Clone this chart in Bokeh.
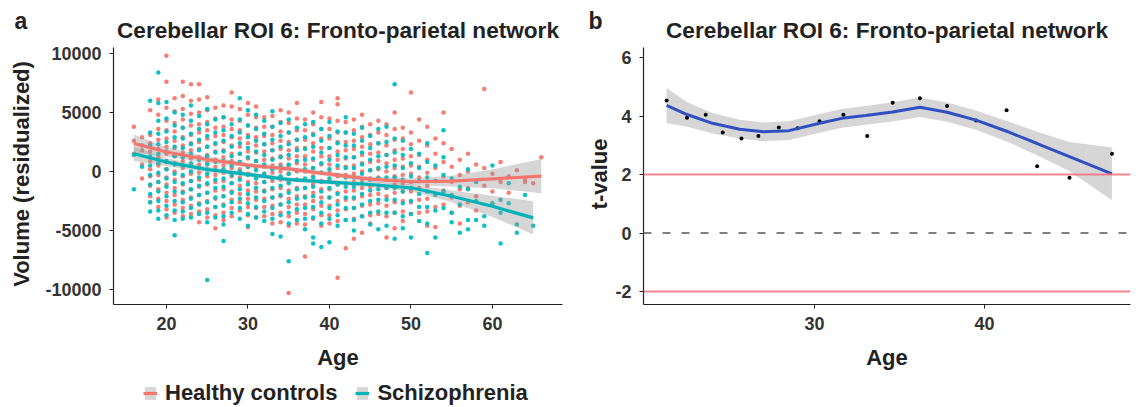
from bokeh.plotting import figure
from bokeh.models import Range1d, FixedTicker, Span, Label, Legend, LegendItem
from bokeh.layouts import row, column
from bokeh.embed import file_html
from bokeh.resources import INLINE

# ---------------- Panel a data ----------------
hc_ages = [16, 17, 18, 19, 20, 21, 22, 23, 24, 25, 26, 27, 28, 29, 30, 31, 32, 33, 34, 35,
           36, 37, 38, 39, 40, 41, 42, 43, 44, 45, 46, 47, 48, 49, 50, 51, 52, 53, 54, 55,
           56, 57, 58, 59, 60, 61, 62, 63, 64, 65, 66]
hc_vols = [
    [3800, 2600, 1500],
    [2900, 1800, 600, -600],
    [5200, 3100, 2400, 1700, 900, 200, -400, -1200, -2100, -2600],
    [6100, 4800, 3600, 2700, 1900, 1200, 500, -300, -900, -1500, -2300, -3000],
    [9800, 7600, 5400, 4300, 3500, 2800, 2100, 1500, 800, 200, -500, -1100, -1800, -2500, -3200, -3900],
    [6200, 5100, 4100, 3400, 2600, 2000, 1300, 700, 0, -700, -1400, -2000, -2800, -3500],
    [7600, 6400, 5300, 4400, 3700, 2900, 2200, 1600, 900, 300, -400, -1100, -1700, -2400, -3100, -3800],
    [7400, 6000, 4900, 3900, 3100, 2400, 1800, 1100, 500, -200, -800, -1500, -2200, -2900, -3600],
    [7400, 6100, 5000, 4000, 3300, 2500, 1900, 1200, 600, -100, -700, -1300, -2000, -2700, -3400, -4300],
    [6300, 5200, 4200, 3500, 2800, 2100, 1400, 800, 200, -400, -1100, -1800, -2500, -3200, -3900],
    [5400, 4500, 3700, 3000, 2300, 1700, 1000, 400, -300, -900, -1600, -2300, -3000, -3700, -4800],
    [5600, 4600, 3800, 3100, 2500, 1800, 1200, 500, -100, -800, -1500, -2100, -2800, -3500, -4100],
    [6700, 5500, 4400, 3600, 2900, 2200, 1500, 900, 300, -400, -1000, -1700, -2400, -3100, -3800],
    [5300, 4300, 3500, 2800, 2100, 1500, 800, 200, -500, -1200, -1900, -2600, -3300],
    [5800, 4800, 3900, 3100, 2400, 1700, 1100, 400, -200, -900, -1600, -2300, -3000, -3700, -4700],
    [5500, 4600, 3700, 2900, 2200, 1600, 900, 300, -400, -1000, -1700, -2400, -3100, -3900],
    [4600, 3800, 3000, 2300, 1700, 1000, 400, -200, -900, -1600, -2300, -3000, -3800],
    [4700, 3800, 3100, 2400, 1800, 1100, 500, -100, -800, -1500, -2200, -2900, -3600, -4400],
    [5200, 4200, 3400, 2600, 1900, 1300, 600, 0, -700, -1400, -2100, -2800, -3500, -4300],
    [5000, 4100, 3300, 2500, 1800, 1100, 500, -200, -900, -1600, -2300, -3000, -3800, -4600, -10300],
    [5800, 4500, 3500, 2700, 2000, 1300, 700, 0, -700, -1400, -2100, -2800, -3500, -4400],
    [4400, 3500, 2700, 2000, 1300, 600, 0, -700, -1400, -2100, -2800, -3600, -4500, -7200],
    [5000, 4000, 3200, 2400, 1700, 1000, 300, -400, -1100, -1800, -2500, -3200, -4000],
    [5900, 4600, 3600, 2800, 2000, 1300, 600, -100, -800, -1500, -2200, -2900, -3700, -4600],
    [4500, 3600, 2800, 2000, 1300, 600, -100, -800, -1500, -2200, -2900, -3700, -4400],
    [6200, 5700, 4300, 3300, 2500, 1700, 1000, 300, -400, -1100, -1800, -2500, -3300, -4200, -9000],
    [4200, 3300, 2500, 1800, 1100, 400, -300, -1000, -1700, -2400, -3200, -4100, -6500],
    [4400, 3500, 2600, 1900, 1200, 500, -200, -900, -1600, -2300, -3100, -4000, -5700],
    [4800, 3800, 2900, 2100, 1400, 700, 0, -700, -1400, -2100, -2900, -3800, -5200],
    [4000, 3100, 2300, 1500, 800, 100, -600, -1300, -2000, -2800, -3700, -4400],
    [4300, 3300, 2400, 1600, 900, 200, -500, -1200, -1900, -2700, -3600],
    [4000, 3100, 2200, 1400, 700, 0, -700, -1400, -2100, -2900, -3800, -5600],
    [5000, 3600, 2700, 1800, 1000, 300, -400, -1100, -1800, -2600, -3500, -4800],
    [3700, 2800, 1900, 1100, 400, -300, -1000, -1700, -2500, -3400, -4200],
    [6700, 3300, 2300, 1300, 500, -200, -900, -1700, -2600, -3600],
    [4400, 2600, 1400, 400, -500, -1400, -2400, -3500],
    [3800, 2200, 1000, -100, -1200, -2300, -3400, -4600],
    [2800, 1500, 300, -800, -1900, -3000, -4700],
    [5000, 2400, 800, -400, -1600, -2800],
    [1900, 400, -900, -2200, -3500],
    [1000, -300, -1500, -2900, -4400],
    [1500, 0, -1400, -2600],
    [600, -800, -2100, -3300],
    [7000, 300, -1200],
    [-200, -1700],
    [800, -900],
    [-1800, -400],
    [100],
    [-900, -700],
    [-1000],
    [1200],
]

sz_ages = [16, 17, 18, 19, 20, 21, 22, 23, 24, 25, 26, 27, 28, 29, 30, 31, 32, 33, 34, 35,
           36, 37, 38, 39, 40, 41, 42, 43, 44, 45, 46, 47, 48, 49, 50, 51, 52, 53, 54, 55,
           56, 57, 58, 59, 60, 61, 62, 63, 64, 65]
sz_vols = [
    [1400, -1500],
    [2200, 400],
    [6000, 3300, 2200, 1300, 500, -300, -1100, -1900, -2600, -3400],
    [8400, 5800, 4300, 3200, 2300, 1500, 700, -100, -900, -1700, -2500, -3300, -4000],
    [5900, 4500, 3400, 2500, 1700, 900, 200, -600, -1300, -2100, -2900, -3700],
    [5000, 3900, 2900, 2100, 1300, 600, -200, -900, -1700, -2500, -3300, -4100, -5400],
    [4800, 3700, 2800, 2000, 1200, 500, -300, -1000, -1800, -2600, -3400, -4000],
    [5600, 4300, 3200, 2300, 1500, 700, 0, -800, -1500, -2300, -3100, -3900],
    [4700, 3600, 2700, 1800, 1000, 300, -500, -1200, -2000, -2800, -3600],
    [5300, 4000, 3000, 2100, 1300, 600, -200, -1000, -1800, -2600, -3500, -4300, -9200],
    [4400, 3300, 2400, 1600, 800, 100, -700, -1400, -2200, -3000, -3900],
    [4600, 3500, 2600, 1700, 900, 200, -600, -1300, -2100, -2900, -3800, -4500, -5900],
    [4000, 3000, 2100, 1300, 500, -300, -1000, -1800, -2600, -3500],
    [6200, 4400, 3300, 2400, 1500, 800, 0, -700, -1500, -2300, -3100, -4000],
    [5200, 3900, 2900, 2000, 1200, 400, -300, -1100, -1900, -2700, -3600, -4600],
    [4800, 3600, 2600, 1700, 900, 100, -600, -1400, -2200, -3000, -3900],
    [4300, 3200, 2300, 1400, 600, -200, -900, -1700, -2500, -3400, -4200],
    [5100, 3800, 2700, 1800, 1000, 200, -600, -1400, -2200, -3100, -4000, -5300],
    [4100, 3000, 2100, 1200, 400, -400, -1200, -2000, -2800, -3700, -5500],
    [4400, 3300, 2300, 1400, 600, -200, -1000, -1800, -2600, -3500, -4400, -7600],
    [3700, 2700, 1800, 900, 100, -700, -1500, -2300, -3200, -4100],
    [4000, 2900, 1900, 1000, 200, -600, -1400, -2200, -3100, -4000, -4900],
    [4200, 3100, 2100, 1100, 300, -500, -1300, -2100, -3000, -3900, -5600, -6100],
    [3600, 2600, 1600, 700, -100, -900, -1700, -2600, -3500, -4400, -6400],
    [4200, 3000, 2000, 1000, 200, -600, -1400, -2200, -3100, -4000, -6000],
    [3400, 2400, 1400, 500, -300, -1100, -1900, -2800, -3700, -4600],
    [4600, 3300, 2200, 1200, 300, -500, -1300, -2200, -3100, -4100],
    [3200, 2200, 1200, 300, -500, -1300, -2200, -3100, -4100, -5000],
    [3700, 2600, 1600, 600, -200, -1000, -1900, -2800, -3800],
    [3000, 2000, 1000, 100, -700, -1600, -2500, -3500, -4500],
    [3600, 2400, 1300, 300, -600, -1500, -2400, -3400, -4900],
    [3800, 2500, 1400, 400, -500, -1400, -2400, -3500, -4600],
    [7400, 2800, 1600, 500, -500, -1400, -2400, -3500, -5700],
    [2600, 1400, 300, -700, -1700, -2700, -3800, -4800],
    [1900, 700, -400, -1400, -2500, -3600, -5600],
    [1500, 300, -800, -1900, -3000, -4200],
    [2400, 800, -500, -1700, -3000, -4400, -6900],
    [500, -800, -2000, -3300, -5600],
    [3500, 1200, -300, -1700, -3100],
    [-600, -2000, -3500, -4300],
    [-1300, -2800, -5200],
    [200, -1500, -4100, -4900],
    [-900, -2500, -4100],
    [-3800, -4600],
    [500, -2700],
    [-2400, -3500, -6100],
    [-1000, -2700],
    [-4500, -5200],
    [-2000],
    [-4600],
]

# smooth fits (panel a)
hc_fit_age = [16, 20, 25, 30, 35, 40, 45, 50, 55, 60, 66]
hc_fit = [2380, 1650, 1020, 535, 220, -230, -650, -870, -820, -620, -400]
hc_fit_lo = [1630, 1250, 770, 335, 20, -430, -880, -1170, -1270, -1420, -1850]
hc_fit_hi = [3130, 2050, 1270, 735, 420, -30, -420, -570, -370, 180, 1050]

sz_fit_age = [16, 20, 25, 30, 35, 40, 45, 50, 55, 60, 65]
sz_fit = [1500, 800, 170, -250, -680, -900, -1100, -1380, -2100, -2950, -3930]
sz_fit_lo = [900, 450, -60, -450, -880, -1100, -1330, -1680, -2600, -3850, -5330]
sz_fit_hi = [2100, 1150, 400, -50, -480, -700, -870, -1080, -1600, -2050, -2530]

# ---------------- Panel b data ----------------
b_age = [21.3, 22.5, 23.6, 24.6, 25.7, 26.7, 27.9, 29.0, 30.3, 31.7, 33.1, 34.6, 36.2, 37.8,
         39.5, 41.3, 43.1, 45.0, 47.5]
b_t = [4.53, 3.94, 4.04, 3.44, 3.23, 3.32, 3.61, 3.58, 3.82, 4.04, 3.32, 4.45, 4.61, 4.34,
       3.85, 4.20, 2.28, 1.89, 2.71]
b_fit_age = [21.3, 22.5, 24.0, 25.6, 27.0, 28.5, 30.3, 31.6, 33.0, 34.6, 36.2, 37.8, 39.5,
             41.3, 43.1, 45.0, 47.5]
b_fit = [4.36, 4.05, 3.75, 3.55, 3.46, 3.50, 3.75, 3.92, 4.02, 4.14, 4.30, 4.13, 3.86,
         3.48, 3.06, 2.61, 2.02]
b_fit_lo = [3.76, 3.63, 3.40, 3.23, 3.14, 3.18, 3.43, 3.60, 3.70, 3.81, 3.97, 3.80, 3.53,
            3.13, 2.66, 2.11, 1.12]
b_fit_hi = [4.96, 4.47, 4.10, 3.87, 3.78, 3.82, 4.07, 4.24, 4.34, 4.47, 4.63, 4.46, 4.19,
            3.83, 3.46, 3.11, 2.92]

TITLE = "Cerebellar ROI 6: Fronto-parietal network"
PANEL_TAGS = ["a", "b"]
LEGEND_LABELS = ["Healthy controls", "Schizophrenia"]

RED = "#F8766D"
TEAL = "#00BFC4"
TEAL_LINE = "#00B3B8"
FONT = "Liberation Sans"
TXT = "#222222"


def style(p, xticks, yticks):
    p.outline_line_color = None
    p.xgrid.visible = False
    p.ygrid.visible = False
    p.background_fill_color = "white"
    p.border_fill_color = "white"
    for ax in (p.xaxis[0], p.yaxis[0]):
        ax.axis_line_color = "#222222"
        ax.axis_line_width = 1.2
        ax.major_tick_line_color = "#222222"
        ax.major_tick_out = 4
        ax.major_tick_in = 0
        ax.minor_tick_line_color = None
        ax.major_label_text_font = FONT
        ax.major_label_text_font_style = "bold"
        ax.major_label_text_font_size = "18px"
        ax.major_label_text_color = "#333333"
        ax.axis_label_text_font = FONT
        ax.axis_label_text_font_style = "bold"
        ax.axis_label_text_font_size = "22px"
        ax.axis_label_text_color = TXT
    p.xaxis[0].ticker = FixedTicker(ticks=xticks)
    p.yaxis[0].ticker = FixedTicker(ticks=yticks)
    p.yaxis[0].major_label_overrides = {t: str(t) for t in yticks if t < 0}
    p.xaxis[0].major_label_standoff = 8
    p.yaxis[0].major_label_standoff = 8
    p.xaxis[0].axis_label_standoff = 12


def bare(w, h):
    f = figure(width=w, height=h, x_range=Range1d(0, w), y_range=Range1d(h, 0),
               output_backend="svg", toolbar_location=None,
               x_axis_location=None, y_axis_location=None,
               min_border_left=0, min_border_right=0, min_border_top=0, min_border_bottom=0)
    f.outline_line_color = None
    f.grid.visible = False
    f.background_fill_color = "white"
    f.border_fill_color = "white"
    return f


HEAD_H = 43

# ---------------- header: panel tags + titles ----------------
head = bare(1136, HEAD_H)
for tx, tag in zip([14, 588], PANEL_TAGS):
    head.add_layout(Label(x=tx, y=20, text=tag, text_font=FONT, text_font_size="23px",
                          text_font_style="bold", text_color=TXT, text_baseline="alphabetic"))
for cx in [337.5, 886.5]:
    head.add_layout(Label(x=cx, y=29.5, text=TITLE, text_font=FONT, text_font_size="22.6px",
                          text_font_style="bold", text_color=TXT, text_align="center",
                          text_baseline="alphabetic"))

# ---------------- Panel a ----------------
pa = figure(frame_width=449, frame_height=261, x_range=Range1d(13.5, 68.6), y_range=Range1d(-11271, 10847),
            output_backend="svg", toolbar_location=None,
            min_border_left=113, min_border_right=19, min_border_top=0, min_border_bottom=76)
style(pa, [20, 30, 40, 50, 60], [-10000, -5000, 0, 5000, 10000])
pa.yaxis[0].bounds = (-11271, 10508)
pa.xaxis[0].axis_label = "Age"
pa.yaxis[0].axis_label = "Volume (residualized)"
pa.yaxis[0].axis_label_standoff = 8

hx, hy = [], []
for a, vs in zip(hc_ages, hc_vols):
    for v in vs:
        hx.append(a)
        hy.append(v)
sx, sy = [], []
for a, vs in zip(sz_ages, sz_vols):
    for v in vs:
        sx.append(a)
        sy.append(v)

pa.scatter(hx, hy, size=4.5, color=RED, line_color=None, alpha=0.95)
pa.scatter(sx, sy, size=4.5, color=TEAL, line_color=None, alpha=0.95)

pa.varea(x=hc_fit_age, y1=hc_fit_lo, y2=hc_fit_hi, fill_color="#999999", fill_alpha=0.4)
pa.varea(x=sz_fit_age, y1=sz_fit_lo, y2=sz_fit_hi, fill_color="#999999", fill_alpha=0.4)
pa.line(hc_fit_age, hc_fit, line_color=RED, line_width=3.2)
pa.line(sz_fit_age, sz_fit, line_color=TEAL_LINE, line_width=3.2)

# ---------------- Panel b ----------------
pb = figure(frame_width=487, frame_height=261, x_range=Range1d(19.94, 48.59), y_range=Range1d(-2.44, 6.477),
            output_backend="svg", toolbar_location=None,
            min_border_left=62, min_border_right=2, min_border_top=0, min_border_bottom=76)
style(pb, [30, 40], [-2, 0, 2, 4, 6])
pb.yaxis[0].bounds = (-2.44, 6.34)
pb.xaxis[0].axis_label = "Age"
pb.yaxis[0].axis_label = "t-value"
pb.yaxis[0].axis_label_standoff = 0

pb.add_layout(Span(location=2, dimension="width", line_color="#F3707C", line_width=2, line_alpha=0.85))
pb.add_layout(Span(location=-2, dimension="width", line_color="#F3707C", line_width=2, line_alpha=0.85))
pb.add_layout(Span(location=0, dimension="width", line_color="#808080", line_width=2,
                   line_dash="8 11"))

pb.varea(x=b_fit_age, y1=b_fit_lo, y2=b_fit_hi, fill_color="#999999", fill_alpha=0.4)
pb.scatter(b_age, b_t, size=4, color="black", line_color=None)
pb.line(b_fit_age, b_fit, line_color="#3050C0", line_width=3)

# ---------------- footer: legend for panel a ----------------
# legend key renderers sit outside the footer's visible range; only their legend glyphs show
foot = bare(581, 26)
key_x = [-60, -40]
key_lo = [5, 5]
key_hi = [20, 20]
key_mid = [12, 12]
items = []
for lab, col in zip(LEGEND_LABELS, [RED, TEAL_LINE]):
    band_r = foot.varea(x=key_x, y1=key_lo, y2=key_hi, fill_color="#999999", fill_alpha=0.4)
    line_r = foot.line(x=key_x, y=key_mid, line_color=col, line_width=3.2)
    items.append(LegendItem(label=lab, renderers=[band_r, line_r]))
leg = Legend(items=items, orientation="horizontal", location=(143, 0),
             label_text_font=FONT, label_text_font_size="22px", label_text_font_style="bold",
             label_text_color=TXT, glyph_width=14, glyph_height=16, spacing=18,
             label_standoff=8, padding=0, margin=0,
             border_line_color=None, background_fill_alpha=0)
foot.add_layout(leg, "center")

layout = column(head, row(pa, pb), foot)
open("out.html", "w").write(file_html(layout, INLINE))
